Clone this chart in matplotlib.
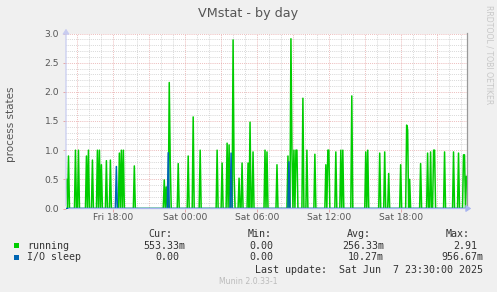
"""Munin VMstat daily graph (running / I/O sleep process states)."""

import matplotlib
matplotlib.use("Agg")
import matplotlib.pyplot as plt
import matplotlib.dates as mdates
import numpy as np
import pandas as pd

# 5-minute samples over the visible window
START = "2025-06-06 14:05"
END = "2025-06-07 23:30"

# spikes (everything else sits at 0)
RUNNING_TIMES = [
    "06 14:05", "06 14:15", "06 14:50", "06 15:05", "06 15:45", "06 15:55",
    "06 16:15", "06 16:40", "06 16:50", "06 17:00", "06 17:25", "06 17:45",
    "06 18:30", "06 18:40", "06 18:50", "06 19:45", "06 22:15", "06 22:25",
    "06 22:40", "06 22:45", "06 23:25", "07 00:15", "07 00:40", "07 01:15",
    "07 02:40", "07 03:05", "07 03:30", "07 03:40", "07 04:00", "07 04:05",
    "07 04:30", "07 04:45", "07 05:15", "07 05:25", "07 05:40", "07 06:40",
    "07 06:50", "07 07:40", "07 08:35", "07 08:50", "07 08:55", "07 09:05",
    "07 09:15", "07 09:20", "07 09:50", "07 10:10", "07 10:50", "07 11:45",
    "07 11:55", "07 12:00", "07 12:35", "07 13:00", "07 13:10", "07 13:55",
    "07 15:05", "07 15:15", "07 16:15", "07 16:40", "07 17:00", "07 18:00",
    "07 18:30", "07 18:35", "07 18:45", "07 19:40", "07 20:15", "07 20:30",
    "07 20:45", "07 20:50", "07 21:40", "07 22:25", "07 22:50", "07 23:15",
    "07 23:20", "07 23:30",
]
RUNNING_VALUES = [
    0.50, 0.90, 1.00, 1.00, 0.90, 1.00,
    0.83, 1.00, 1.00, 0.75, 0.82, 0.83,
    0.95, 1.00, 1.00, 0.73, 0.49, 0.37,
    2.16, 0.80, 0.77, 0.90, 1.57, 1.00,
    1.00, 0.78, 1.12, 1.09, 2.89, 0.60,
    0.52, 0.78, 0.78, 1.48, 0.97, 1.00,
    0.97, 0.75, 0.90, 2.91, 1.00, 1.00,
    1.00, 1.00, 1.89, 1.00, 0.93, 0.75,
    1.00, 1.00, 0.97, 1.00, 1.00, 1.93,
    0.97, 1.00, 0.95, 0.97, 0.60, 0.75,
    1.43, 1.35, 0.50, 0.77, 0.95, 0.97,
    1.00, 1.00, 0.97, 0.97, 0.95, 0.92,
    0.92, 0.55,
]
IOSLEEP_TIMES = ["06 18:15", "06 22:35", "07 03:50", "07 08:40"]
IOSLEEP_VALUES = [0.72, 0.957, 0.95, 0.80]

LEGEND_NAMES = ["running", "I/O sleep"]
LEGEND_COLORS = ["#00CC00", "#0066B3"]
CUR = ["553.33m", "0.00"]
MIN = ["0.00", "0.00"]
AVG = ["256.33m", "10.27m"]
MAX = ["2.91", "956.67m"]

W, H = 497, 292
BG = "#F0F0F0"
GRID_MINOR = "#c4c4c4"
GRID_MAJOR = "#e39a9a"


def build_series(times, values):
    idx = pd.date_range(START, END, freq="5min")
    s = pd.Series(0.0, index=idx)
    for t, v in zip(times, values):
        s[pd.Timestamp("2025-06-" + t)] = v
    return s


def fx(px):
    return px / W


def fy(py):
    return 1 - py / H


running = build_series(RUNNING_TIMES, RUNNING_VALUES)
iosleep = build_series(IOSLEEP_TIMES, IOSLEEP_VALUES)

fig = plt.figure(figsize=(W / 100, H / 100), dpi=100, facecolor=BG)
ax = fig.add_axes([fx(66), fy(208.5), (467 - 66) / W, 175 / H])
ax.set_facecolor("white")

x0 = pd.Timestamp(START) - pd.Timedelta(minutes=2.5)
x1 = pd.Timestamp(END) + pd.Timedelta(minutes=2.5)
ax.set_xlim(x0, x1)
ax.set_ylim(0, 3.0)

# grid: minor gray, major red
dots = (0, (1, 1.5))
minor_y = np.arange(0.1, 3.01, 0.1)
for v in minor_y:
    if abs(v * 2 - round(v * 2)) > 1e-6:
        ax.axhline(v, color=GRID_MINOR, lw=0.55, ls=dots, zorder=0)
for v in [0.5, 1.0, 1.5, 2.0, 2.5, 3.0]:
    ax.axhline(v, color=GRID_MAJOR, lw=0.55, ls=dots, zorder=0)

hours = pd.date_range("2025-06-06 15:00", "2025-06-07 23:00", freq="1h")
for h in hours:
    if h.hour % 3 == 0:
        ax.axvline(h, color=GRID_MAJOR, lw=0.55, ls=dots, zorder=0)
    else:
        ax.axvline(h, color=GRID_MINOR, lw=0.55, ls=dots, zorder=0)

ax.plot(running.index, running.values, color=LEGEND_COLORS[0], lw=1.1, zorder=3)
ax.plot(iosleep.index, iosleep.values, color=LEGEND_COLORS[1], lw=1.1, zorder=4)

for sp in ax.spines.values():
    sp.set_visible(False)

# ticks
label_hours = [h for h in hours if h.hour % 6 == 0]
ax.set_xticks(label_hours)
ax.xaxis.set_major_formatter(mdates.DateFormatter("%a %H:%M"))
ax.set_yticks([0, 0.5, 1.0, 1.5, 2.0, 2.5, 3.0])
ax.set_yticklabels(["0.0", "0.5", "1.0", "1.5", "2.0", "2.5", "3.0"])
ax.tick_params(axis="x", length=2, width=0.6, color=GRID_MAJOR, pad=1.5,
               labelsize=6.6, labelcolor="#555555")
ax.tick_params(axis="y", length=2, width=0.6, color=GRID_MAJOR, pad=3,
               labelsize=6.6, labelcolor="#555555")

# axis lines with arrows (figure coordinates)
fig.add_artist(matplotlib.patches.FancyArrowPatch(
    (fx(66), fy(208.5)), (fx(66), fy(26)), transform=fig.transFigure,
    arrowstyle="-|>,head_length=3,head_width=2", color="#c8ccf0", lw=0.9,
    mutation_scale=1, zorder=5))
fig.add_artist(matplotlib.patches.FancyArrowPatch(
    (fx(66), fy(208.5)), (fx(474), fy(208.5)), transform=fig.transFigure,
    arrowstyle="-|>,head_length=3,head_width=2", color="#a8b4f0", lw=0.9,
    mutation_scale=1, zorder=5))
fig.add_artist(plt.Line2D([fx(467), fx(467)], [fy(208.5), fy(33)],
                          transform=fig.transFigure, color="#999999",
                          lw=0.9))

# texts
fig.text(fx(248), fy(13), "VMstat - by day", ha="center", va="center",
         fontsize=9.2, color="#555555")
fig.text(fx(11), fy(124), "process states", ha="center", va="center",
         rotation=90, fontsize=7.5, color="#555555")
fig.text(fx(489), fy(5), "RRDTOOL / TOBI OETIKER", ha="center", va="top",
         rotation=270, fontsize=5.6, color="#c8c8c8")

mono = dict(family="DejaVu Sans Mono", fontsize=7.2, color="#333333",
            va="center")
for label, px in [("Cur:", 172), ("Min:", 272), ("Avg:", 371), ("Max:", 470)]:
    fig.text(fx(px), fy(234), label, ha="right", **mono)

rows_y = [245.7, 257.3]
col_right = [185, 279, 384, 483]
for i, name in enumerate(LEGEND_NAMES):
    y = rows_y[i]
    fig.patches.append(matplotlib.patches.Rectangle(
        (fx(14), fy(y + 2.5)), 5 / W, 5 / H, transform=fig.transFigure,
        facecolor=LEGEND_COLORS[i], edgecolor="none"))
    fig.text(fx(27), fy(y), name, ha="left", **mono)
    vals = [CUR[i], MIN[i], AVG[i], MAX[i]]
    for v, px in zip(vals, col_right):
        # legend columns in munin keep the "m" suffix slot aligned
        if not v.endswith("m"):
            px -= 6
        fig.text(fx(px), fy(y), v, ha="right", **mono)

fig.text(fx(483), fy(269.7), "Last update:  Sat Jun  7 23:30:00 2025",
         ha="right", **mono)
fig.text(fx(248.5), fy(281.7), "Munin 2.0.33-1", ha="center", va="center",
         fontsize=5.6, color="#bbbbbb")

fig.savefig("out.png", dpi=100, facecolor=BG)
